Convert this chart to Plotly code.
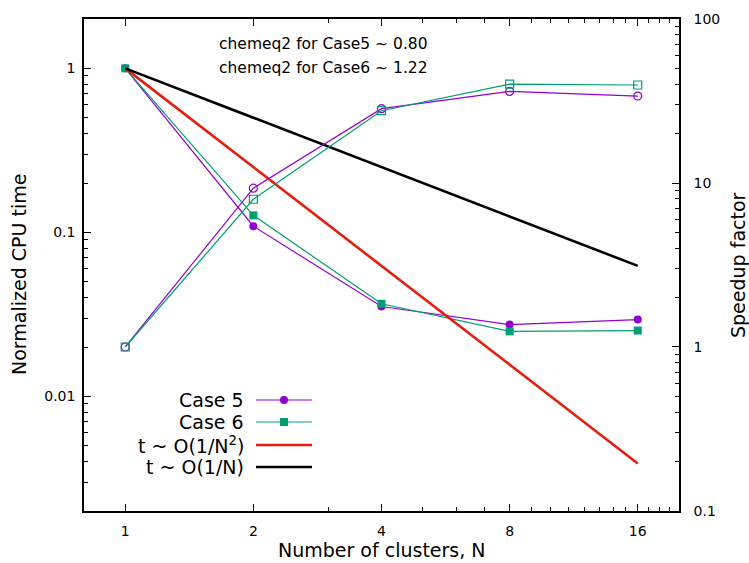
import plotly.graph_objects as go

# ---- data ----
N = [1, 2, 4, 8, 16]
cpu_case5 = [1.0, 0.109, 0.0353, 0.0274, 0.0294]
cpu_case6 = [1.0, 0.127, 0.0367, 0.0249, 0.0252]
speedup_case5 = [1.0, 9.3, 28.4, 36.2, 33.9]
speedup_case6 = [1.0, 7.96, 27.6, 40.1, 39.6]
ref_N = [1, 16]
ref_inv_n2 = [1.0, 0.0039]
ref_inv_n = [1.0, 0.0625]

x_ticks = [1, 2, 4, 8, 16]
x_minor = [3, 5, 6, 7, 9, 10, 11, 12, 13, 14, 15, 17, 18, 19]
y_ticks = [0.01, 0.1, 1]
y_ticktext = ["0.01", "0.1", "1"]
y2_ticks = [0.1, 1, 10, 100]
y2_ticktext = ["0.1", "1", "10", "100"]

legend_labels = ["Case 5", "Case 6", "t ~ O(1/N<sup>2</sup>)", "t ~ O(1/N)"]
notes = ["chemeq2 for Case5 ~ 0.80", "chemeq2 for Case6 ~ 1.22"]

PURPLE = "#9400D3"
GREEN = "#009E73"
RED = "#E51E10"
BLACK = "#000000"
FONT = "DejaVu Sans"

def minor_log(lo_exp, hi_exp):
    vals = []
    for e in range(lo_exp, hi_exp + 1):
        for m in range(2, 10):
            vals.append(m * 10.0 ** e)
    return vals

fig = go.Figure()

fig.add_trace(go.Scatter(x=N, y=cpu_case5, mode="lines+markers",
                         line=dict(color=PURPLE, width=1.2),
                         marker=dict(symbol="circle", size=8, color=PURPLE),
                         showlegend=False))
fig.add_trace(go.Scatter(x=N, y=cpu_case6, mode="lines+markers",
                         line=dict(color=GREEN, width=1.2),
                         marker=dict(symbol="square", size=8, color=GREEN),
                         showlegend=False))
fig.add_trace(go.Scatter(x=N, y=speedup_case5, mode="lines+markers", yaxis="y2",
                         line=dict(color=PURPLE, width=1.2),
                         marker=dict(symbol="circle-open", size=8, color=PURPLE,
                                     line=dict(width=1.2, color=PURPLE)),
                         showlegend=False))
fig.add_trace(go.Scatter(x=N, y=speedup_case6, mode="lines+markers", yaxis="y2",
                         line=dict(color=GREEN, width=1.2),
                         marker=dict(symbol="square-open", size=8, color=GREEN,
                                     line=dict(width=1.2, color=GREEN)),
                         showlegend=False))
fig.add_trace(go.Scatter(x=ref_N, y=ref_inv_n2, mode="lines",
                         line=dict(color=RED, width=2.6), showlegend=False))
fig.add_trace(go.Scatter(x=ref_N, y=ref_inv_n, mode="lines",
                         line=dict(color=BLACK, width=2.6), showlegend=False))

# ---- manual legend (text right-aligned, sample to the right) ----
L, R, T, B = 84, 679, 19, 511
W, H = R - L, B - T
def px(x):
    return (x - L) / W
def py(y):
    return (B - y) / H

rows_y = [400, 422, 445, 467]
colors = [PURPLE, GREEN, RED, BLACK]
widths = [1.2, 1.2, 2.6, 2.6]
shapes = []
annotations = []
for i, (lab, c, w, ry) in enumerate(zip(legend_labels, colors, widths, rows_y)):
    annotations.append(dict(x=px(246), y=py(ry), xref="paper", yref="paper",
                            text=lab, showarrow=False, xanchor="right", yanchor="middle",
                            font=dict(family=FONT, size=19, color="black")))
    shapes.append(dict(type="line", xref="paper", yref="paper",
                       x0=px(256), x1=px(312), y0=py(ry), y1=py(ry),
                       line=dict(color=c, width=w)))
# legend markers
cx, r = 284, 4
shapes.append(dict(type="circle", xref="paper", yref="paper",
                   x0=px(cx - r), x1=px(cx + r), y0=py(rows_y[0] + r), y1=py(rows_y[0] - r),
                   fillcolor=PURPLE, line=dict(color=PURPLE, width=0)))
shapes.append(dict(type="rect", xref="paper", yref="paper",
                   x0=px(cx - r), x1=px(cx + r), y0=py(rows_y[1] + r), y1=py(rows_y[1] - r),
                   fillcolor=GREEN, line=dict(color=GREEN, width=0)))

# notes
for note, ny in zip(notes, [44, 68]):
    annotations.append(dict(x=px(217), y=py(ny), xref="paper", yref="paper",
                            text=note, showarrow=False, xanchor="left", yanchor="middle",
                            font=dict(family=FONT, size=15.5, color="black")))

# axis titles
annotations.append(dict(x=px(382), y=py(550), xref="paper", yref="paper",
                        text="Number of clusters, N", showarrow=False,
                        xanchor="center", yanchor="middle",
                        font=dict(family=FONT, size=19, color="black")))
annotations.append(dict(x=px(19), y=py(275), xref="paper", yref="paper",
                        text="Normalized CPU time", showarrow=False, textangle=-90,
                        xanchor="center", yanchor="middle",
                        font=dict(family=FONT, size=19, color="black")))
annotations.append(dict(x=px(738), y=py(265), xref="paper", yref="paper",
                        text="Speedup factor", showarrow=False, textangle=-90,
                        xanchor="center", yanchor="middle",
                        font=dict(family=FONT, size=19, color="black")))

axis_common = dict(showgrid=False, zeroline=False, showline=True, linecolor="black",
                   linewidth=1.5, ticks="inside", tickcolor="black", tickwidth=1.2,
                   ticklen=7, tickfont=dict(family=FONT, size=14, color="black"))

fig.update_layout(
    width=749, height=563,
    margin=dict(l=L, r=749 - R, t=T, b=563 - B, autoexpand=False),
    paper_bgcolor="white", plot_bgcolor="white",
    showlegend=False,
    xaxis=dict(type="log", range=[-0.09691, 1.30103], tickmode="array",
               tickvals=x_ticks, ticktext=[str(v) for v in x_ticks], mirror="ticks",
               ticklabelstandoff=6,
               minor=dict(tickmode="array", tickvals=x_minor, ticks="inside",
                          ticklen=4, tickcolor="black", tickwidth=1.2),
               **axis_common),
    yaxis=dict(type="log", range=[-2.69897, 0.30103], tickmode="array",
               tickvals=y_ticks, ticktext=y_ticktext, mirror=True,
               ticklabelstandoff=4,
               minor=dict(tickmode="array", tickvals=minor_log(-3, 0), ticks="inside",
                          ticklen=4, tickcolor="black", tickwidth=1.2),
               **axis_common),
    yaxis2=dict(type="log", range=[-1.0001, 2.0001], overlaying="y", side="right",
                tickmode="array", tickvals=y2_ticks, ticktext=y2_ticktext,
                ticklabelstandoff=10,
                minor=dict(tickmode="array", tickvals=minor_log(-1, 1), ticks="inside",
                           ticklen=4, tickcolor="black", tickwidth=1.2),
                **axis_common),
    shapes=shapes,
    annotations=annotations,
)

fig.write_html("out.html")
